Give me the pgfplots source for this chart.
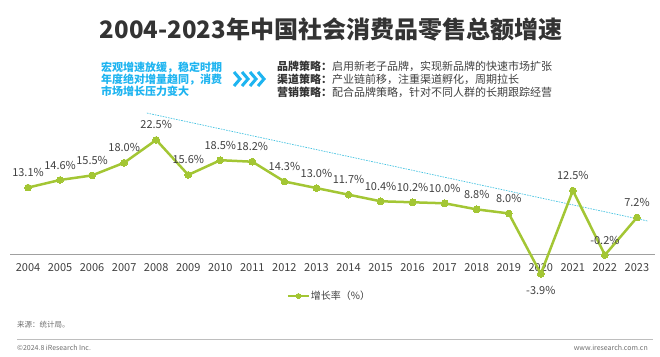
\documentclass[border=0pt]{standalone}
\usepackage{pgfplots}
\pgfplotsset{compat=1.18}
\usepackage{pgfplotstable}
\usepackage{fontspec}
\setmainfont{Noto Sans CJK SC}
\definecolor{lineg}{RGB}{163,198,52}
\definecolor{cyant}{RGB}{30,180,240}
\definecolor{trendc}{RGB}{70,195,225}
\definecolor{labc}{RGB}{64,64,64}
\definecolor{titlec}{RGB}{51,51,51}
\definecolor{footc}{RGB}{110,110,110}
\pgfkeys{/pgf/number format/assume math mode=true}
\pgfplotstableread{
year val dy
2004 13.1 15
2005 14.6 15
2006 15.5 15
2007 18.0 15
2008 22.5 15
2009 15.6 15
2010 18.5 15
2011 18.2 15
2012 14.3 15
2013 13.0 15
2014 11.7 15
2015 10.4 15
2016 10.2 15
2017 10.0 15
2018 8.8 15
2019 8.0 15
2020 -3.9 -17
2021 12.5 15
2022 -0.2 15
2023 7.2 15
}\growth
\begin{document}
\begin{tikzpicture}
\begin{axis}[
  scale only axis, width=645pt, height=180pt,
  xmin=2003.438, xmax=2023.563, ymin=-7.10, ymax=28.40,
  clip=false,
  axis x line=middle, axis y line=none,
  axis line style={-, draw={rgb,255:red,160;green,160;blue,160}, line width=0.8pt},
  xtick={2004,...,2023}, major tick length=0pt,
  xticklabel={\pgfmathprintnumber[1000 sep={},fixed,precision=0]{\tick}},
  xticklabel style={anchor=center, yshift=-14pt, text=labc, font=\fontsize{11}{12}\selectfont},
  legend style={at={(0.4946,-0.0333)}, anchor=center, draw=none, fill=none,
    font=\fontsize{10}{12}\selectfont, text=labc, inner sep=0pt,
    nodes={inner sep=1pt}},
  legend image code/.code={
    \draw[#1, line width=2pt] (0pt,0pt) -- (21pt,0pt);
    \draw[#1, mark size=2.5pt] plot coordinates {(10.5pt,0pt)};
  },
]
\addplot[trendc, line width=0.7pt, dash pattern=on 1.6pt off 1.1pt, forget plot]
  coordinates {(2007.71,27.8) (2023.34,6.5)};
\addplot[lineg, line width=2.5pt, mark=*, mark size=3.4pt,
  mark options={fill=lineg, draw=lineg, line width=0pt},
  point meta=y,
  visualization depends on={\thisrow{dy} \as \dy},
  nodes near coords={\pgfmathprintnumber[fixed,fixed zerofill,precision=1]{\pgfplotspointmeta}\%},
  every node near coord/.append style={anchor=center, yshift=\dy, text=labc,
    font=\fontsize{11}{12}\selectfont},
] table[x=year, y=val] {\growth};
\addlegendentry{增长率（\%）}
\end{axis}
\begin{scope}[x=1pt, y=-1pt, shift={(-10pt,290pt)}]
\path (0,0) rectangle (660,356);
\node[font=\bfseries\fontsize{24}{28}\selectfont, text=titlec] at (331,29) {2004-2023年中国社会消费品零售总额增速};
\node[align=left, anchor=west, font=\bfseries\fontsize{11}{12}\selectfont, text=cyant, inner sep=0pt] at (101,79)
  {宏观增速放缓，稳定时期\\年度绝对增量趋同，消费\\市场增长压力变大};
\foreach \i in {0,1,2,3} {
  \draw[cyant, line width=3pt, miter limit=10] ({234+8*\i},72) -- ({240+8*\i},79) -- ({234+8*\i},86);
}
\node[align=left, anchor=west, font=\fontsize{11}{13}\selectfont, text=labc, inner sep=0pt] at (277,79)
  {\textbf{\color{titlec}品牌策略：}启用新老子品牌，实现新品牌的快速市场扩张\\
   \textbf{\color{titlec}渠道策略：}产业链前移，注重渠道孵化，周期拉长\\
   \textbf{\color{titlec}营销策略：}配合品牌策略，针对不同人群的长期跟踪经营};
\node[anchor=west, font=\fontsize{7.5}{9}\selectfont, text=footc, inner sep=0pt] at (17,325) {来源：统计局。};
\draw[draw={rgb,255:red,190;green,190;blue,190}, line width=0.6pt] (17,339) -- (653,339);
\node[anchor=west, font=\fontsize{7}{9}\selectfont, text=footc, inner sep=0pt] at (17,348) {©2024.8 iResearch Inc.};
\node[anchor=east, font=\fontsize{7}{9}\selectfont, text=footc, inner sep=0pt] at (648,348) {www.iresearch.com.cn};
\end{scope}
\end{tikzpicture}
\end{document}
